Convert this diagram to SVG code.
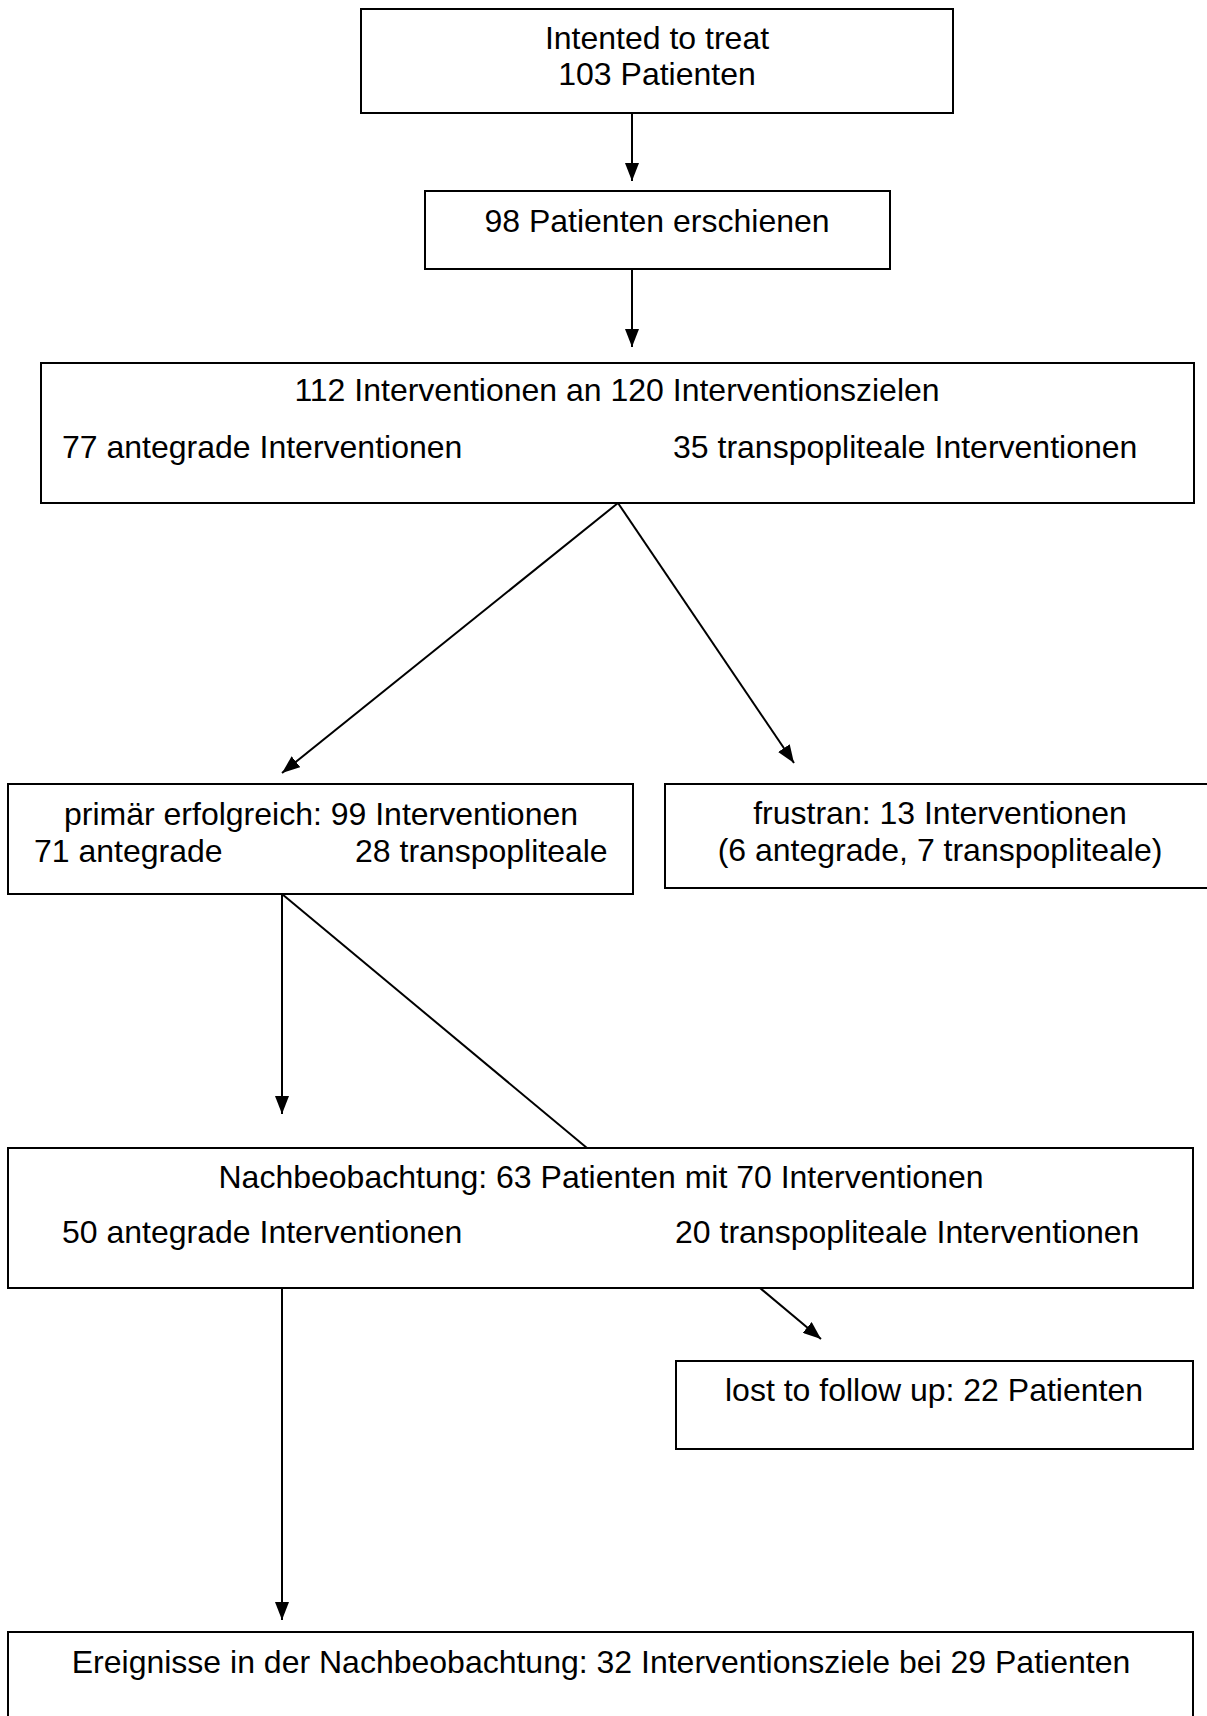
<svg xmlns="http://www.w3.org/2000/svg" width="1207" height="1716" viewBox="0 0 1207 1716">
<style>
rect.box{fill:#fff;stroke:#000;stroke-width:2}
text{font-family:"Liberation Sans",Arial,sans-serif;font-size:32px;fill:#000}
.c{text-anchor:middle}
.conn line{stroke:#000;stroke-width:2}
</style>
<defs>
<marker id="ah" markerUnits="userSpaceOnUse" markerWidth="18" markerHeight="14" refX="18" refY="7" orient="auto">
<path d="M0,0 L18,7 L0,14 z" fill="#000"/>
</marker>
</defs>
<rect width="1207" height="1716" fill="#fff"/>
<g id="connectors" class="conn">
<line x1="632" y1="113" x2="632" y2="181" marker-end="url(#ah)"/>
<line x1="632" y1="269" x2="632" y2="347" marker-end="url(#ah)"/>
<line x1="618" y1="503" x2="282" y2="773" marker-end="url(#ah)"/>
<line x1="618" y1="503" x2="794" y2="763" marker-end="url(#ah)"/>
<line x1="282" y1="894" x2="282" y2="1114" marker-end="url(#ah)"/>
<line x1="282" y1="894" x2="587" y2="1148"/>
<line x1="760" y1="1288" x2="821" y2="1339" marker-end="url(#ah)"/>
<line x1="282" y1="1288" x2="282" y2="1620" marker-end="url(#ah)"/>
</g>
<g id="n1">
<rect class="box" x="361" y="9" width="592" height="104"/>
<text class="c" x="657" y="49">Intented to treat</text>
<text class="c" x="657" y="85">103 Patienten</text>
</g>
<g id="n2">
<rect class="box" x="425" y="191" width="465" height="78"/>
<text class="c" x="657" y="232">98 Patienten erschienen</text>
</g>
<g id="n3">
<rect class="box" x="41" y="363" width="1153" height="140"/>
<text class="c" x="617" y="401">112 Interventionen an 120 Interventionszielen</text>
<text x="62" y="458">77 antegrade Interventionen</text>
<text x="673" y="458">35 transpopliteale Interventionen</text>
</g>
<g id="n4">
<rect class="box" x="8" y="784" width="625" height="110"/>
<text class="c" x="321" y="825">primär erfolgreich: 99 Interventionen</text>
<text x="34" y="862">71 antegrade</text>
<text x="355" y="862">28 transpopliteale</text>
</g>
<g id="n5">
<rect class="box" x="665" y="784" width="546" height="104"/>
<text class="c" x="940" y="824">frustran: 13 Interventionen</text>
<text class="c" x="940" y="861">(6 antegrade, 7 transpopliteale)</text>
</g>
<g id="n6">
<rect class="box" x="8" y="1148" width="1185" height="140"/>
<text class="c" x="601" y="1188">Nachbeobachtung: 63 Patienten mit 70 Interventionen</text>
<text x="62" y="1243">50 antegrade Interventionen</text>
<text x="675" y="1243">20 transpopliteale Interventionen</text>
</g>
<g id="n7">
<rect class="box" x="676" y="1361" width="517" height="88"/>
<text class="c" x="934" y="1401">lost to follow up: 22 Patienten</text>
</g>
<g id="n8">
<rect class="box" x="8" y="1632" width="1185" height="100"/>
<text class="c" x="601" y="1673">Ereignisse in der Nachbeobachtung: 32 Interventionsziele bei 29 Patienten</text>
</g>
</svg>
